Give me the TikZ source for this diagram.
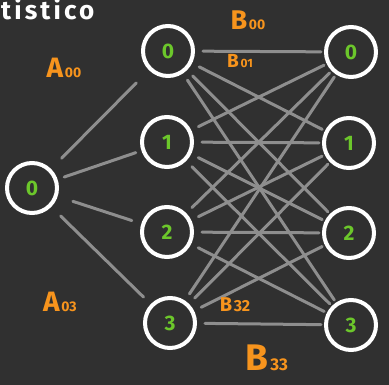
\documentclass[tikz,border=0pt]{standalone}
\usepackage{fontspec}
\setmainfont{Fira Sans}
\definecolor{bg}{HTML}{303030}
\definecolor{edgegray}{HTML}{8E8E8E}
\definecolor{lab}{HTML}{F7941D}
\definecolor{num}{HTML}{6CC72B}
\newcommand{\fsz}[1]{\fontsize{#1}{#1}\selectfont}
\begin{document}
\begin{tikzpicture}[x=1pt,y=-1pt,
  neuron/.style={circle,draw=white,line width=4pt,minimum size=50pt,inner sep=0pt,outer sep=0pt,
    text=num,font=\bfseries\fsz{21}},
  conn/.style={draw=edgegray,line width=3pt,line cap=round,shorten <=10pt,shorten >=5pt},
  wlab/.style={text=lab,font=\bfseries,inner sep=0pt}]
\fill[bg] (0,0) rectangle (389,385);
\useasboundingbox (0,0) rectangle (389,385);
\node[text=white,font=\bfseries\fsz{26}\addfontfeature{LetterSpace=12},anchor=west,inner sep=0pt] (title) at (1,9) {tistico};
\node[neuron] (l0) at (32,188) {0};
\node[neuron] (m0) at (168,51) {0};
\node[neuron] (m1) at (167,142) {1};
\node[neuron] (m2) at (167,232) {2};
\node[neuron] (m3) at (170,323) {3};
\node[neuron] (r0) at (351,52) {0};
\node[neuron] (r1) at (349,143) {1};
\node[neuron] (r2) at (349,233) {2};
\node[neuron] (r3) at (351,325) {3};
\draw[conn,shorten <=17pt,shorten >=20pt] (l0) -- (m0);
\draw[conn,shorten <=9pt,shorten >=8pt] (l0) -- (m1);
\draw[conn,shorten <=18pt,shorten >=12pt] (l0) -- (m2);
\draw[conn,shorten <=15pt,shorten >=12pt] (l0) -- (m3);
\foreach \a in {m0,m1,m2,m3}{
  \foreach \b in {r0,r1,r2,r3}{
    \draw[conn] (\a) -- (\b);
  }
}
\node[wlab] (a00) at (64,68) {{\fsz{28}A}\,{\fsz{14}00}};
\node[wlab] (a03) at (60,302) {{\fsz{28}A}\,{\fsz{14}03}};
\node[wlab] (b00) at (248,20) {{\fsz{27}B}\,{\fsz{14}00}};
\node[wlab] (b01) at (240,61) {{\fsz{19}B}\,{\fsz{12}01}};
\node[wlab] (b32) at (235,305) {{\fsz{20}B}\,{\fsz{16}32}};
\node[wlab] (b33) at (267,358) {{\fsz{37}B}\,{\fsz{17}33}};
\end{tikzpicture}
\end{document}
